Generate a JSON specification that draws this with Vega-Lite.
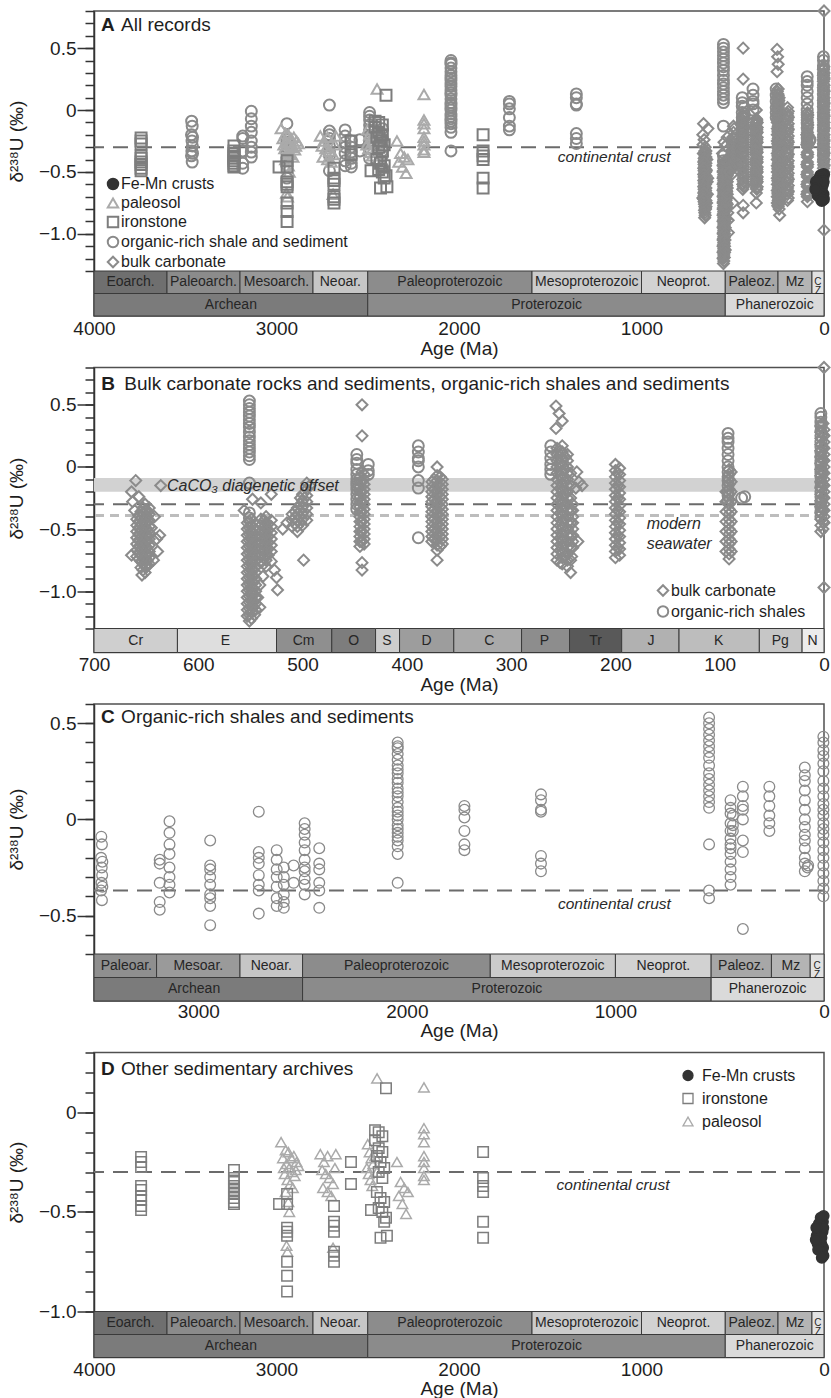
{
"$schema":"https://vega.github.io/schema/vega-lite/v6.json",
"padding":{"left":6,"top":0,"right":4,"bottom":0},
"background":"white",
"spacing":51.5,
"bounds":"flush",
"config":{
 "font":"Liberation Sans",
 "view":{"stroke":"#505050","strokeWidth":1.5},
 "axis":{"labelFont":"Liberation Sans","titleFont":"Liberation Sans","labelFontSize":19,"titleFontSize":19,"titleFontWeight":"normal","labelColor":"#1e1e1e","titleColor":"#1e1e1e","grid":false,"domainColor":"#333","tickColor":"#333"},
 "legend":{"labelFont":"Liberation Sans","labelLimit":400},
 "text":{"font":"Liberation Sans"}
},
"resolve":{"scale":{"shape":"independent","stroke":"independent","fill":"independent"},"legend":{"shape":"independent","stroke":"independent","fill":"independent"}},
"datasets":{
"d":[
{"t":"c","a":660,"v":-0.11},{"t":"c","a":664,"v":-0.2},{"t":"c","a":663,"v":-0.28},{"t":"c","a":657,"v":-0.24},{"t":"c","a":645,"v":-0.49},{"t":"c","a":640,"v":-0.58},{"t":"c","a":639,"v":-0.68},{"t":"c","a":664,"v":-0.71},{"t":"c","a":654,"v":-0.87},{"t":"c","a":650,"v":-0.79},{"t":"c","a":636,"v":-0.15},{"t":"c","a":642,"v":-0.4},{"t":"c","a":637,"v":-0.55},{"t":"c","a":643,"v":-0.75},{"t":"c","a":661,"v":-0.35},
{"t":"c","a":647,"v":-0.33},{"t":"c","a":647,"v":-0.38},{"t":"c","a":647,"v":-0.43},{"t":"c","a":647,"v":-0.48},{"t":"c","a":647,"v":-0.53},{"t":"c","a":647,"v":-0.58},{"t":"c","a":647,"v":-0.63},{"t":"c","a":647,"v":-0.68},{"t":"c","a":647,"v":-0.73},{"t":"c","a":647,"v":-0.78},
{"t":"c","a":649,"v":-0.35},{"t":"c","a":649,"v":-0.4},{"t":"c","a":649,"v":-0.45},{"t":"c","a":649,"v":-0.5},{"t":"c","a":649,"v":-0.55},{"t":"c","a":649,"v":-0.6},{"t":"c","a":649,"v":-0.65},{"t":"c","a":649,"v":-0.7},{"t":"c","a":649,"v":-0.75},{"t":"c","a":649,"v":-0.8},
{"t":"c","a":651,"v":-0.3},{"t":"c","a":651,"v":-0.35},{"t":"c","a":651,"v":-0.4},{"t":"c","a":651,"v":-0.45},{"t":"c","a":651,"v":-0.5},{"t":"c","a":651,"v":-0.55},{"t":"c","a":651,"v":-0.6},{"t":"c","a":651,"v":-0.65},{"t":"c","a":651,"v":-0.7},{"t":"c","a":651,"v":-0.75},{"t":"c","a":651,"v":-0.8},{"t":"c","a":651,"v":-0.85},
{"t":"c","a":653,"v":-0.33},{"t":"c","a":653,"v":-0.38},{"t":"c","a":653,"v":-0.43},{"t":"c","a":653,"v":-0.48},{"t":"c","a":653,"v":-0.53},{"t":"c","a":653,"v":-0.58},{"t":"c","a":653,"v":-0.63},{"t":"c","a":653,"v":-0.68},{"t":"c","a":653,"v":-0.73},{"t":"c","a":653,"v":-0.78},{"t":"c","a":653,"v":-0.83},
{"t":"c","a":655,"v":-0.36},{"t":"c","a":655,"v":-0.41},{"t":"c","a":655,"v":-0.46},{"t":"c","a":655,"v":-0.51},{"t":"c","a":655,"v":-0.56},{"t":"c","a":655,"v":-0.61},{"t":"c","a":655,"v":-0.66},{"t":"c","a":655,"v":-0.71},{"t":"c","a":655,"v":-0.76},{"t":"c","a":655,"v":-0.81},
{"t":"c","a":657,"v":-0.39},{"t":"c","a":657,"v":-0.44},{"t":"c","a":657,"v":-0.49},{"t":"c","a":657,"v":-0.54},{"t":"c","a":657,"v":-0.59},{"t":"c","a":657,"v":-0.64},{"t":"c","a":657,"v":-0.69},{"t":"c","a":657,"v":-0.74},
{"t":"c","a":659,"v":-0.42},{"t":"c","a":659,"v":-0.47},{"t":"c","a":659,"v":-0.52},{"t":"c","a":659,"v":-0.57},{"t":"c","a":659,"v":-0.62},{"t":"c","a":659,"v":-0.67},{"t":"c","a":659,"v":-0.72},
{"t":"c","a":556,"v":-0.35},{"t":"c","a":548,"v":-0.26},{"t":"c","a":540,"v":-0.29},{"t":"c","a":530,"v":-0.22},{"t":"c","a":525,"v":-0.89},{"t":"c","a":524,"v":-0.99},{"t":"c","a":530,"v":-0.76},{"t":"c","a":527,"v":-0.83},{"t":"c","a":538,"v":-0.88},{"t":"c","a":541,"v":-0.95},{"t":"c","a":543,"v":-1.05},
{"t":"c","a":553,"v":-0.45},{"t":"c","a":553,"v":-0.5},{"t":"c","a":553,"v":-0.55},{"t":"c","a":553,"v":-0.6},{"t":"c","a":553,"v":-0.65},{"t":"c","a":553,"v":-0.7},{"t":"c","a":553,"v":-0.75},{"t":"c","a":553,"v":-0.8},{"t":"c","a":553,"v":-0.85},{"t":"c","a":553,"v":-0.9},{"t":"c","a":553,"v":-0.95},{"t":"c","a":553,"v":-1.0},{"t":"c","a":553,"v":-1.05},{"t":"c","a":553,"v":-1.1},{"t":"c","a":553,"v":-1.15},{"t":"c","a":553,"v":-1.2},
{"t":"c","a":551,"v":-0.44},{"t":"c","a":551,"v":-0.49},{"t":"c","a":551,"v":-0.54},{"t":"c","a":551,"v":-0.59},{"t":"c","a":551,"v":-0.64},{"t":"c","a":551,"v":-0.69},{"t":"c","a":551,"v":-0.74},{"t":"c","a":551,"v":-0.79},{"t":"c","a":551,"v":-0.84},{"t":"c","a":551,"v":-0.89},{"t":"c","a":551,"v":-0.94},{"t":"c","a":551,"v":-0.99},{"t":"c","a":551,"v":-1.04},{"t":"c","a":551,"v":-1.09},{"t":"c","a":551,"v":-1.14},{"t":"c","a":551,"v":-1.19},
{"t":"c","a":549,"v":-0.42},{"t":"c","a":549,"v":-0.47},{"t":"c","a":549,"v":-0.52},{"t":"c","a":549,"v":-0.57},{"t":"c","a":549,"v":-0.62},{"t":"c","a":549,"v":-0.67},{"t":"c","a":549,"v":-0.72},{"t":"c","a":549,"v":-0.77},{"t":"c","a":549,"v":-0.82},{"t":"c","a":549,"v":-0.87},{"t":"c","a":549,"v":-0.92},{"t":"c","a":549,"v":-0.97},{"t":"c","a":549,"v":-1.02},{"t":"c","a":549,"v":-1.07},{"t":"c","a":549,"v":-1.12},{"t":"c","a":549,"v":-1.17},{"t":"c","a":549,"v":-1.22},
{"t":"c","a":547,"v":-0.53},{"t":"c","a":547,"v":-0.58},{"t":"c","a":547,"v":-0.63},{"t":"c","a":547,"v":-0.68},{"t":"c","a":547,"v":-0.73},{"t":"c","a":547,"v":-0.78},{"t":"c","a":547,"v":-0.83},{"t":"c","a":547,"v":-0.88},{"t":"c","a":547,"v":-0.93},{"t":"c","a":547,"v":-0.98},{"t":"c","a":547,"v":-1.03},{"t":"c","a":547,"v":-1.08},{"t":"c","a":547,"v":-1.13},
{"t":"c","a":545,"v":-0.5},{"t":"c","a":545,"v":-0.55},{"t":"c","a":545,"v":-0.6},{"t":"c","a":545,"v":-0.65},{"t":"c","a":545,"v":-0.7},{"t":"c","a":545,"v":-0.75},{"t":"c","a":545,"v":-0.8},{"t":"c","a":545,"v":-0.85},{"t":"c","a":545,"v":-0.9},{"t":"c","a":545,"v":-0.95},{"t":"c","a":545,"v":-1.0},{"t":"c","a":545,"v":-1.05},{"t":"c","a":545,"v":-1.1},{"t":"c","a":545,"v":-1.15},
{"t":"c","a":540,"v":-0.42},{"t":"c","a":540,"v":-0.47},{"t":"c","a":540,"v":-0.52},{"t":"c","a":540,"v":-0.57},{"t":"c","a":540,"v":-0.62},{"t":"c","a":540,"v":-0.67},{"t":"c","a":540,"v":-0.72},{"t":"c","a":540,"v":-0.77},
{"t":"c","a":537,"v":-0.43},{"t":"c","a":537,"v":-0.48},{"t":"c","a":537,"v":-0.53},{"t":"c","a":537,"v":-0.58},{"t":"c","a":537,"v":-0.63},{"t":"c","a":537,"v":-0.68},{"t":"c","a":537,"v":-0.73},{"t":"c","a":537,"v":-0.78},
{"t":"c","a":535,"v":-0.4},{"t":"c","a":535,"v":-0.45},{"t":"c","a":535,"v":-0.5},{"t":"c","a":535,"v":-0.55},{"t":"c","a":535,"v":-0.6},{"t":"c","a":535,"v":-0.65},{"t":"c","a":535,"v":-0.7},{"t":"c","a":535,"v":-0.75},{"t":"c","a":535,"v":-0.8},
{"t":"c","a":533,"v":-0.46},{"t":"c","a":533,"v":-0.51},{"t":"c","a":533,"v":-0.56},{"t":"c","a":533,"v":-0.61},{"t":"c","a":533,"v":-0.66},{"t":"c","a":533,"v":-0.71},
{"t":"c","a":530,"v":-0.43},{"t":"c","a":530,"v":-0.48},{"t":"c","a":530,"v":-0.53},{"t":"c","a":530,"v":-0.58},{"t":"c","a":530,"v":-0.63},{"t":"c","a":530,"v":-0.68},
{"t":"c","a":551,"v":-1.24},{"t":"c","a":546,"v":-1.19},{"t":"c","a":541,"v":-1.13},
{"t":"c","a":510,"v":-0.38},{"t":"c","a":510,"v":-0.43},{"t":"c","a":510,"v":-0.48},
{"t":"c","a":507,"v":-0.36},{"t":"c","a":507,"v":-0.41},{"t":"c","a":507,"v":-0.46},
{"t":"c","a":505,"v":-0.33},{"t":"c","a":505,"v":-0.38},{"t":"c","a":505,"v":-0.43},{"t":"c","a":505,"v":-0.48},{"t":"c","a":505,"v":-0.52},
{"t":"c","a":502,"v":-0.25},{"t":"c","a":502,"v":-0.3},{"t":"c","a":502,"v":-0.35},{"t":"c","a":502,"v":-0.4},{"t":"c","a":502,"v":-0.45},
{"t":"c","a":500,"v":-0.22},{"t":"c","a":500,"v":-0.27},{"t":"c","a":500,"v":-0.32},{"t":"c","a":500,"v":-0.37},{"t":"c","a":500,"v":-0.42},{"t":"c","a":500,"v":-0.47},
{"t":"c","a":496,"v":-0.13},{"t":"c","a":496,"v":-0.18},{"t":"c","a":496,"v":-0.23},{"t":"c","a":496,"v":-0.28},{"t":"c","a":496,"v":-0.33},{"t":"c","a":496,"v":-0.38},{"t":"c","a":496,"v":-0.43},
{"t":"c","a":499,"v":-0.75},{"t":"c","a":515,"v":-0.45},{"t":"c","a":519,"v":-0.5},{"t":"c","a":493,"v":-0.15},
{"t":"c","a":441,"v":-0.06},{"t":"c","a":441,"v":-0.1},{"t":"c","a":441,"v":-0.14},{"t":"c","a":441,"v":-0.18},{"t":"c","a":441,"v":-0.22},{"t":"c","a":441,"v":-0.26},{"t":"c","a":441,"v":-0.3},{"t":"c","a":441,"v":-0.34},{"t":"c","a":441,"v":-0.38},{"t":"c","a":441,"v":-0.42},{"t":"c","a":441,"v":-0.46},{"t":"c","a":441,"v":-0.5},{"t":"c","a":441,"v":-0.54},{"t":"c","a":441,"v":-0.58},{"t":"c","a":441,"v":-0.62},
{"t":"c","a":443,"v":-0.04},{"t":"c","a":443,"v":-0.12},{"t":"c","a":443,"v":-0.2},{"t":"c","a":443,"v":-0.28},{"t":"c","a":443,"v":-0.36},{"t":"c","a":443,"v":-0.44},{"t":"c","a":443,"v":-0.52},{"t":"c","a":443,"v":-0.6},
{"t":"c","a":445,"v":-0.08},{"t":"c","a":445,"v":-0.12},{"t":"c","a":445,"v":-0.16},{"t":"c","a":445,"v":-0.2},{"t":"c","a":445,"v":-0.24},{"t":"c","a":445,"v":-0.28},{"t":"c","a":445,"v":-0.32},{"t":"c","a":445,"v":-0.36},{"t":"c","a":445,"v":-0.4},{"t":"c","a":445,"v":-0.44},{"t":"c","a":445,"v":-0.48},{"t":"c","a":445,"v":-0.52},{"t":"c","a":445,"v":-0.56},{"t":"c","a":445,"v":-0.6},{"t":"c","a":445,"v":-0.64},
{"t":"c","a":443,"v":0.5},{"t":"c","a":443,"v":0.25},{"t":"c","a":443,"v":-0.77},{"t":"c","a":443,"v":-0.83},
{"t":"c","a":366,"v":-0.1},{"t":"c","a":366,"v":-0.14},{"t":"c","a":366,"v":-0.18},{"t":"c","a":366,"v":-0.22},{"t":"c","a":366,"v":-0.26},{"t":"c","a":366,"v":-0.3},{"t":"c","a":366,"v":-0.34},{"t":"c","a":366,"v":-0.38},{"t":"c","a":366,"v":-0.42},{"t":"c","a":366,"v":-0.46},{"t":"c","a":366,"v":-0.5},{"t":"c","a":366,"v":-0.54},{"t":"c","a":366,"v":-0.58},{"t":"c","a":366,"v":-0.62},
{"t":"c","a":368,"v":-0.08},{"t":"c","a":368,"v":-0.16},{"t":"c","a":368,"v":-0.24},{"t":"c","a":368,"v":-0.32},{"t":"c","a":368,"v":-0.4},{"t":"c","a":368,"v":-0.48},{"t":"c","a":368,"v":-0.56},{"t":"c","a":368,"v":-0.64},
{"t":"c","a":371,"v":-0.07},{"t":"c","a":371,"v":-0.11},{"t":"c","a":371,"v":-0.15},{"t":"c","a":371,"v":-0.19},{"t":"c","a":371,"v":-0.23},{"t":"c","a":371,"v":-0.27},{"t":"c","a":371,"v":-0.31},{"t":"c","a":371,"v":-0.35},{"t":"c","a":371,"v":-0.39},{"t":"c","a":371,"v":-0.43},{"t":"c","a":371,"v":-0.47},{"t":"c","a":371,"v":-0.51},{"t":"c","a":371,"v":-0.55},{"t":"c","a":371,"v":-0.59},{"t":"c","a":371,"v":-0.63},{"t":"c","a":371,"v":-0.67},
{"t":"c","a":374,"v":-0.1},{"t":"c","a":374,"v":-0.18},{"t":"c","a":374,"v":-0.26},{"t":"c","a":374,"v":-0.34},{"t":"c","a":374,"v":-0.42},{"t":"c","a":374,"v":-0.5},{"t":"c","a":374,"v":-0.58},
{"t":"c","a":376,"v":-0.12},{"t":"c","a":376,"v":-0.16},{"t":"c","a":376,"v":-0.2},{"t":"c","a":376,"v":-0.24},{"t":"c","a":376,"v":-0.28},{"t":"c","a":376,"v":-0.32},{"t":"c","a":376,"v":-0.36},{"t":"c","a":376,"v":-0.4},{"t":"c","a":376,"v":-0.44},{"t":"c","a":376,"v":-0.48},{"t":"c","a":376,"v":-0.52},{"t":"c","a":376,"v":-0.56},{"t":"c","a":376,"v":-0.6},
{"t":"c","a":371,"v":0.0},{"t":"c","a":371,"v":-0.75},
{"t":"c","a":257,"v":0.49},{"t":"c","a":254,"v":0.43},{"t":"c","a":251,"v":0.37},{"t":"c","a":257,"v":0.31},
{"t":"c","a":256,"v":0.15},{"t":"c","a":256,"v":0.1},{"t":"c","a":256,"v":0.05},{"t":"c","a":256,"v":0.0},{"t":"c","a":256,"v":-0.05},{"t":"c","a":256,"v":-0.1},{"t":"c","a":256,"v":-0.15},{"t":"c","a":256,"v":-0.2},{"t":"c","a":256,"v":-0.25},{"t":"c","a":256,"v":-0.3},{"t":"c","a":256,"v":-0.35},{"t":"c","a":256,"v":-0.4},{"t":"c","a":256,"v":-0.45},{"t":"c","a":256,"v":-0.5},{"t":"c","a":256,"v":-0.55},{"t":"c","a":256,"v":-0.6},{"t":"c","a":256,"v":-0.65},{"t":"c","a":256,"v":-0.7},{"t":"c","a":256,"v":-0.75},
{"t":"c","a":253,"v":0.13},{"t":"c","a":253,"v":0.03},{"t":"c","a":253,"v":-0.07},{"t":"c","a":253,"v":-0.17},{"t":"c","a":253,"v":-0.27},{"t":"c","a":253,"v":-0.37},{"t":"c","a":253,"v":-0.47},{"t":"c","a":253,"v":-0.57},{"t":"c","a":253,"v":-0.67},{"t":"c","a":253,"v":-0.77},
{"t":"c","a":251,"v":0.17},{"t":"c","a":251,"v":0.12},{"t":"c","a":251,"v":0.07},{"t":"c","a":251,"v":0.02},{"t":"c","a":251,"v":-0.03},{"t":"c","a":251,"v":-0.08},{"t":"c","a":251,"v":-0.13},{"t":"c","a":251,"v":-0.18},{"t":"c","a":251,"v":-0.23},{"t":"c","a":251,"v":-0.28},{"t":"c","a":251,"v":-0.33},{"t":"c","a":251,"v":-0.38},{"t":"c","a":251,"v":-0.43},{"t":"c","a":251,"v":-0.48},{"t":"c","a":251,"v":-0.53},{"t":"c","a":251,"v":-0.58},{"t":"c","a":251,"v":-0.63},{"t":"c","a":251,"v":-0.68},{"t":"c","a":251,"v":-0.73},{"t":"c","a":251,"v":-0.78},
{"t":"c","a":248,"v":0.08},{"t":"c","a":248,"v":-0.02},{"t":"c","a":248,"v":-0.12},{"t":"c","a":248,"v":-0.22},{"t":"c","a":248,"v":-0.32},{"t":"c","a":248,"v":-0.42},{"t":"c","a":248,"v":-0.52},{"t":"c","a":248,"v":-0.62},{"t":"c","a":248,"v":-0.72},
{"t":"c","a":246,"v":0.1},{"t":"c","a":246,"v":0.05},{"t":"c","a":246,"v":0.0},{"t":"c","a":246,"v":-0.05},{"t":"c","a":246,"v":-0.1},{"t":"c","a":246,"v":-0.15},{"t":"c","a":246,"v":-0.2},{"t":"c","a":246,"v":-0.25},{"t":"c","a":246,"v":-0.3},{"t":"c","a":246,"v":-0.35},{"t":"c","a":246,"v":-0.4},{"t":"c","a":246,"v":-0.45},{"t":"c","a":246,"v":-0.5},{"t":"c","a":246,"v":-0.55},{"t":"c","a":246,"v":-0.6},{"t":"c","a":246,"v":-0.65},{"t":"c","a":246,"v":-0.7},{"t":"c","a":246,"v":-0.75},{"t":"c","a":246,"v":-0.8},
{"t":"c","a":243,"v":-0.05},{"t":"c","a":243,"v":-0.15},{"t":"c","a":243,"v":-0.25},{"t":"c","a":243,"v":-0.35},{"t":"c","a":243,"v":-0.45},{"t":"c","a":243,"v":-0.55},{"t":"c","a":243,"v":-0.65},{"t":"c","a":243,"v":-0.75},
{"t":"c","a":241,"v":-0.3},{"t":"c","a":241,"v":-0.35},{"t":"c","a":241,"v":-0.4},{"t":"c","a":241,"v":-0.45},{"t":"c","a":241,"v":-0.5},{"t":"c","a":241,"v":-0.55},{"t":"c","a":241,"v":-0.6},{"t":"c","a":241,"v":-0.65},
{"t":"c","a":235,"v":-0.12},{"t":"c","a":237,"v":-0.04},{"t":"c","a":243,"v":-0.85},{"t":"c","a":242,"v":-0.72},{"t":"c","a":238,"v":-0.17},{"t":"c","a":232,"v":-0.15},{"t":"c","a":236,"v":-0.6},
{"t":"c","a":200,"v":0.02},{"t":"c","a":200,"v":-0.03},{"t":"c","a":200,"v":-0.08},{"t":"c","a":200,"v":-0.13},{"t":"c","a":200,"v":-0.18},{"t":"c","a":200,"v":-0.23},{"t":"c","a":200,"v":-0.28},{"t":"c","a":200,"v":-0.33},{"t":"c","a":200,"v":-0.38},{"t":"c","a":200,"v":-0.43},{"t":"c","a":200,"v":-0.48},{"t":"c","a":200,"v":-0.53},{"t":"c","a":200,"v":-0.58},{"t":"c","a":200,"v":-0.63},{"t":"c","a":200,"v":-0.68},{"t":"c","a":200,"v":-0.73},
{"t":"c","a":198,"v":-0.05},{"t":"c","a":198,"v":-0.15},{"t":"c","a":198,"v":-0.25},{"t":"c","a":198,"v":-0.35},{"t":"c","a":198,"v":-0.45},{"t":"c","a":198,"v":-0.55},{"t":"c","a":198,"v":-0.65},
{"t":"c","a":196,"v":-0.01},{"t":"c","a":196,"v":-0.06},{"t":"c","a":196,"v":-0.11},{"t":"c","a":196,"v":-0.16},{"t":"c","a":196,"v":-0.21},{"t":"c","a":196,"v":-0.26},{"t":"c","a":196,"v":-0.31},{"t":"c","a":196,"v":-0.36},{"t":"c","a":196,"v":-0.41},{"t":"c","a":196,"v":-0.46},{"t":"c","a":196,"v":-0.51},{"t":"c","a":196,"v":-0.56},{"t":"c","a":196,"v":-0.61},{"t":"c","a":196,"v":-0.66},{"t":"c","a":196,"v":-0.71},
{"t":"c","a":91,"v":-0.02},{"t":"c","a":91,"v":-0.06},{"t":"c","a":91,"v":-0.1},{"t":"c","a":91,"v":-0.14},{"t":"c","a":91,"v":-0.18},{"t":"c","a":91,"v":-0.22},{"t":"c","a":91,"v":-0.26},{"t":"c","a":91,"v":-0.3},{"t":"c","a":91,"v":-0.34},{"t":"c","a":91,"v":-0.38},{"t":"c","a":91,"v":-0.42},{"t":"c","a":91,"v":-0.46},{"t":"c","a":91,"v":-0.5},{"t":"c","a":91,"v":-0.54},{"t":"c","a":91,"v":-0.58},{"t":"c","a":91,"v":-0.62},{"t":"c","a":91,"v":-0.66},{"t":"c","a":91,"v":-0.7},{"t":"c","a":91,"v":-0.74},
{"t":"c","a":89,"v":-0.04},{"t":"c","a":89,"v":-0.12},{"t":"c","a":89,"v":-0.2},{"t":"c","a":89,"v":-0.28},{"t":"c","a":89,"v":-0.36},{"t":"c","a":89,"v":-0.44},{"t":"c","a":89,"v":-0.52},{"t":"c","a":89,"v":-0.6},{"t":"c","a":89,"v":-0.68},
{"t":"c","a":94,"v":-0.2},{"t":"c","a":94,"v":-0.28},{"t":"c","a":94,"v":-0.36},{"t":"c","a":94,"v":-0.44},{"t":"c","a":94,"v":-0.52},{"t":"c","a":94,"v":-0.6},{"t":"c","a":94,"v":-0.68},
{"t":"c","a":3,"v":0.33},{"t":"c","a":3,"v":0.28},{"t":"c","a":3,"v":0.23},{"t":"c","a":3,"v":0.18},{"t":"c","a":3,"v":0.13},{"t":"c","a":3,"v":0.08},{"t":"c","a":3,"v":0.03},{"t":"c","a":3,"v":-0.02},{"t":"c","a":3,"v":-0.07},{"t":"c","a":3,"v":-0.12},{"t":"c","a":3,"v":-0.17},{"t":"c","a":3,"v":-0.22},{"t":"c","a":3,"v":-0.27},{"t":"c","a":3,"v":-0.32},{"t":"c","a":3,"v":-0.37},{"t":"c","a":3,"v":-0.42},{"t":"c","a":3,"v":-0.47},{"t":"c","a":3,"v":-0.52},
{"t":"c","a":1,"v":0.35},{"t":"c","a":1,"v":0.26},{"t":"c","a":1,"v":0.16},{"t":"c","a":1,"v":0.06},{"t":"c","a":1,"v":-0.04},{"t":"c","a":1,"v":-0.14},{"t":"c","a":1,"v":-0.24},{"t":"c","a":1,"v":-0.34},{"t":"c","a":1,"v":-0.44},{"t":"c","a":1,"v":-0.5},
{"t":"c","a":0,"v":0.3},{"t":"c","a":0,"v":0.25},{"t":"c","a":0,"v":0.2},{"t":"c","a":0,"v":0.15},{"t":"c","a":0,"v":0.1},{"t":"c","a":0,"v":0.05},{"t":"c","a":0,"v":0.0},{"t":"c","a":0,"v":-0.05},{"t":"c","a":0,"v":-0.1},{"t":"c","a":0,"v":-0.15},{"t":"c","a":0,"v":-0.2},{"t":"c","a":0,"v":-0.25},{"t":"c","a":0,"v":-0.3},{"t":"c","a":0,"v":-0.35},{"t":"c","a":0,"v":-0.4},{"t":"c","a":0,"v":-0.45},
{"t":"c","a":0,"v":0.8},{"t":"c","a":0,"v":-0.97},
{"t":"o","a":3465,"v":-0.09},{"t":"o","a":3462,"v":-0.13},{"t":"o","a":3466,"v":-0.2},{"t":"o","a":3460,"v":-0.22},{"t":"o","a":3463,"v":-0.25},{"t":"o","a":3461,"v":-0.29},{"t":"o","a":3464,"v":-0.33},{"t":"o","a":3460,"v":-0.35},{"t":"o","a":3466,"v":-0.37},{"t":"o","a":3462,"v":-0.42},
{"t":"o","a":3185,"v":-0.21},{"t":"o","a":3185,"v":-0.23},{"t":"o","a":3185,"v":-0.33},{"t":"o","a":3185,"v":-0.43},{"t":"o","a":3185,"v":-0.47},
{"t":"o","a":3138,"v":-0.01},{"t":"o","a":3138,"v":-0.07},{"t":"o","a":3138,"v":-0.13},{"t":"o","a":3138,"v":-0.18},{"t":"o","a":3138,"v":-0.25},{"t":"o","a":3138,"v":-0.3},{"t":"o","a":3138,"v":-0.34},{"t":"o","a":3138,"v":-0.38},
{"t":"o","a":2943,"v":-0.11},{"t":"o","a":2943,"v":-0.24},{"t":"o","a":2943,"v":-0.26},{"t":"o","a":2943,"v":-0.3},{"t":"o","a":2943,"v":-0.34},{"t":"o","a":2943,"v":-0.39},{"t":"o","a":2943,"v":-0.41},{"t":"o","a":2943,"v":-0.45},{"t":"o","a":2943,"v":-0.55},
{"t":"o","a":2710,"v":0.04},{"t":"o","a":2710,"v":-0.17},{"t":"o","a":2710,"v":-0.2},{"t":"o","a":2710,"v":-0.23},{"t":"o","a":2710,"v":-0.29},{"t":"o","a":2710,"v":-0.34},{"t":"o","a":2710,"v":-0.37},{"t":"o","a":2710,"v":-0.49},
{"t":"o","a":2624,"v":-0.16},{"t":"o","a":2624,"v":-0.21},{"t":"o","a":2624,"v":-0.26},{"t":"o","a":2624,"v":-0.3},{"t":"o","a":2624,"v":-0.35},{"t":"o","a":2624,"v":-0.41},{"t":"o","a":2624,"v":-0.45},
{"t":"o","a":2590,"v":-0.25},{"t":"o","a":2590,"v":-0.3},{"t":"o","a":2590,"v":-0.34},{"t":"o","a":2590,"v":-0.39},{"t":"o","a":2590,"v":-0.43},{"t":"o","a":2590,"v":-0.46},
{"t":"o","a":2543,"v":-0.24},{"t":"o","a":2543,"v":-0.33},
{"t":"o","a":2490,"v":-0.02},{"t":"o","a":2490,"v":-0.05},{"t":"o","a":2490,"v":-0.08},{"t":"o","a":2490,"v":-0.12},{"t":"o","a":2490,"v":-0.16},{"t":"o","a":2490,"v":-0.21},{"t":"o","a":2490,"v":-0.25},{"t":"o","a":2490,"v":-0.27},{"t":"o","a":2490,"v":-0.31},{"t":"o","a":2490,"v":-0.34},{"t":"o","a":2490,"v":-0.39},
{"t":"o","a":2420,"v":-0.15},{"t":"o","a":2420,"v":-0.23},{"t":"o","a":2420,"v":-0.26},{"t":"o","a":2420,"v":-0.33},{"t":"o","a":2420,"v":-0.37},{"t":"o","a":2420,"v":-0.46},
{"t":"o","a":2044,"v":0.4},{"t":"o","a":2044,"v":0.38},{"t":"o","a":2044,"v":0.37},{"t":"o","a":2044,"v":0.34},{"t":"o","a":2044,"v":0.31},{"t":"o","a":2044,"v":0.28},{"t":"o","a":2044,"v":0.26},{"t":"o","a":2044,"v":0.24},{"t":"o","a":2044,"v":0.21},{"t":"o","a":2044,"v":0.19},{"t":"o","a":2044,"v":0.16},{"t":"o","a":2044,"v":0.14},{"t":"o","a":2044,"v":0.12},{"t":"o","a":2044,"v":0.09},{"t":"o","a":2044,"v":0.06},{"t":"o","a":2044,"v":0.04},{"t":"o","a":2044,"v":0.02},{"t":"o","a":2044,"v":0.0},{"t":"o","a":2044,"v":-0.03},{"t":"o","a":2044,"v":-0.05},{"t":"o","a":2044,"v":-0.07},{"t":"o","a":2044,"v":-0.09},{"t":"o","a":2044,"v":-0.11},{"t":"o","a":2044,"v":-0.14},{"t":"o","a":2044,"v":-0.18},{"t":"o","a":2044,"v":-0.33},
{"t":"o","a":1724,"v":0.07},{"t":"o","a":1724,"v":0.05},{"t":"o","a":1724,"v":0.01},{"t":"o","a":1724,"v":-0.06},{"t":"o","a":1724,"v":-0.13},{"t":"o","a":1724,"v":-0.16},
{"t":"o","a":1357,"v":0.13},{"t":"o","a":1357,"v":0.1},{"t":"o","a":1357,"v":0.05},{"t":"o","a":1357,"v":0.04},{"t":"o","a":1357,"v":-0.19},{"t":"o","a":1357,"v":-0.23},{"t":"o","a":1357,"v":-0.27},
{"t":"o","a":551,"v":0.53},{"t":"o","a":551,"v":0.5},{"t":"o","a":551,"v":0.47},{"t":"o","a":551,"v":0.44},{"t":"o","a":551,"v":0.41},{"t":"o","a":551,"v":0.38},{"t":"o","a":551,"v":0.35},{"t":"o","a":551,"v":0.32},{"t":"o","a":551,"v":0.28},{"t":"o","a":551,"v":0.24},{"t":"o","a":551,"v":0.21},{"t":"o","a":551,"v":0.18},{"t":"o","a":551,"v":0.15},{"t":"o","a":551,"v":0.12},{"t":"o","a":551,"v":0.09},{"t":"o","a":551,"v":0.06},{"t":"o","a":551,"v":-0.13},{"t":"o","a":551,"v":-0.37},{"t":"o","a":551,"v":-0.41},
{"t":"o","a":448,"v":0.1},{"t":"o","a":448,"v":0.06},{"t":"o","a":448,"v":0.03},{"t":"o","a":448,"v":-0.02},{"t":"o","a":448,"v":-0.06},{"t":"o","a":448,"v":-0.1},{"t":"o","a":448,"v":-0.13},{"t":"o","a":448,"v":-0.15},{"t":"o","a":448,"v":-0.18},{"t":"o","a":448,"v":-0.22},{"t":"o","a":448,"v":-0.26},{"t":"o","a":448,"v":-0.3},{"t":"o","a":448,"v":-0.34},
{"t":"o","a":437,"v":0.02},{"t":"o","a":437,"v":-0.03},{"t":"o","a":437,"v":-0.06},
{"t":"o","a":389,"v":0.17},{"t":"o","a":389,"v":0.12},{"t":"o","a":389,"v":0.07},{"t":"o","a":389,"v":0.05},{"t":"o","a":389,"v":0.0},{"t":"o","a":389,"v":-0.11},{"t":"o","a":389,"v":-0.17},{"t":"o","a":389,"v":-0.57},
{"t":"o","a":262,"v":0.17},{"t":"o","a":262,"v":0.12},{"t":"o","a":262,"v":0.07},{"t":"o","a":262,"v":0.02},{"t":"o","a":262,"v":-0.02},{"t":"o","a":262,"v":-0.06},
{"t":"o","a":92,"v":0.27},{"t":"o","a":92,"v":0.23},{"t":"o","a":92,"v":0.2},{"t":"o","a":92,"v":0.15},{"t":"o","a":92,"v":0.1},{"t":"o","a":92,"v":0.05},{"t":"o","a":92,"v":0.0},{"t":"o","a":92,"v":-0.04},{"t":"o","a":92,"v":-0.08},{"t":"o","a":92,"v":-0.11},{"t":"o","a":92,"v":-0.15},{"t":"o","a":92,"v":-0.2},{"t":"o","a":92,"v":-0.23},{"t":"o","a":92,"v":-0.27},
{"t":"o","a":79,"v":-0.25},{"t":"o","a":76,"v":-0.24},
{"t":"o","a":3,"v":0.43},{"t":"o","a":3,"v":0.4},{"t":"o","a":3,"v":0.36},{"t":"o","a":3,"v":0.33},{"t":"o","a":3,"v":0.29},{"t":"o","a":3,"v":0.25},{"t":"o","a":3,"v":0.2},{"t":"o","a":3,"v":0.16},{"t":"o","a":3,"v":0.12},{"t":"o","a":3,"v":0.08},{"t":"o","a":3,"v":0.05},{"t":"o","a":3,"v":0.02},{"t":"o","a":3,"v":-0.02},{"t":"o","a":3,"v":-0.05},{"t":"o","a":3,"v":-0.08},{"t":"o","a":3,"v":-0.12},{"t":"o","a":3,"v":-0.16},{"t":"o","a":3,"v":-0.2},{"t":"o","a":3,"v":-0.24},{"t":"o","a":3,"v":-0.28},{"t":"o","a":3,"v":-0.32},{"t":"o","a":3,"v":-0.36},{"t":"o","a":3,"v":-0.4},
{"t":"p","a":2975,"v":-0.15},{"t":"p","a":2950,"v":-0.19},{"t":"p","a":2935,"v":-0.2},{"t":"p","a":2920,"v":-0.23},{"t":"p","a":2905,"v":-0.22},{"t":"p","a":2890,"v":-0.25},{"t":"p","a":2880,"v":-0.27},{"t":"p","a":2965,"v":-0.23},{"t":"p","a":2945,"v":-0.26},{"t":"p","a":2930,"v":-0.28},{"t":"p","a":2915,"v":-0.3},{"t":"p","a":2900,"v":-0.32},{"t":"p","a":2955,"v":-0.31},{"t":"p","a":2940,"v":-0.34},{"t":"p","a":2925,"v":-0.36},{"t":"p","a":2910,"v":-0.38},{"t":"p","a":2950,"v":-0.4},{"t":"p","a":2935,"v":-0.45},{"t":"p","a":2930,"v":-0.5},{"t":"p","a":2945,"v":-0.67},{"t":"p","a":2940,"v":-0.7},{"t":"p","a":2960,"v":-0.28},{"t":"p","a":2895,"v":-0.29},
{"t":"p","a":2760,"v":-0.21},{"t":"p","a":2740,"v":-0.25},{"t":"p","a":2720,"v":-0.22},{"t":"p","a":2675,"v":-0.21},{"t":"p","a":2750,"v":-0.29},{"t":"p","a":2730,"v":-0.31},{"t":"p","a":2710,"v":-0.33},{"t":"p","a":2690,"v":-0.36},{"t":"p","a":2745,"v":-0.38},{"t":"p","a":2720,"v":-0.4},{"t":"p","a":2680,"v":-0.28},{"t":"p","a":2700,"v":-0.42},{"t":"p","a":2690,"v":-0.68},
{"t":"p","a":2500,"v":-0.16},{"t":"p","a":2490,"v":-0.2},{"t":"p","a":2480,"v":-0.23},{"t":"p","a":2470,"v":-0.26},{"t":"p","a":2505,"v":-0.28},{"t":"p","a":2495,"v":-0.31},{"t":"p","a":2485,"v":-0.34},{"t":"p","a":2475,"v":-0.37},{"t":"p","a":2460,"v":-0.22},{"t":"p","a":2450,"v":-0.3},{"t":"p","a":2449,"v":0.17},
{"t":"p","a":2340,"v":-0.25},{"t":"p","a":2320,"v":-0.35},{"t":"p","a":2300,"v":-0.38},{"t":"p","a":2330,"v":-0.42},{"t":"p","a":2310,"v":-0.46},{"t":"p","a":2290,"v":-0.51},{"t":"p","a":2280,"v":-0.4},
{"t":"p","a":2192,"v":0.125},{"t":"p","a":2192,"v":-0.08},{"t":"p","a":2192,"v":-0.11},{"t":"p","a":2192,"v":-0.15},{"t":"p","a":2192,"v":-0.22},{"t":"p","a":2192,"v":-0.25},{"t":"p","a":2192,"v":-0.28},{"t":"p","a":2192,"v":-0.32},{"t":"p","a":2192,"v":-0.34},
{"t":"i","a":3742,"v":-0.225},{"t":"i","a":3742,"v":-0.25},{"t":"i","a":3742,"v":-0.275},{"t":"i","a":3742,"v":-0.37},{"t":"i","a":3742,"v":-0.39},{"t":"i","a":3742,"v":-0.42},{"t":"i","a":3742,"v":-0.44},{"t":"i","a":3742,"v":-0.47},{"t":"i","a":3742,"v":-0.49},
{"t":"i","a":3233,"v":-0.29},{"t":"i","a":3233,"v":-0.33},{"t":"i","a":3233,"v":-0.35},{"t":"i","a":3233,"v":-0.37},{"t":"i","a":3233,"v":-0.39},{"t":"i","a":3233,"v":-0.41},{"t":"i","a":3233,"v":-0.43},{"t":"i","a":3233,"v":-0.45},{"t":"i","a":3233,"v":-0.46},
{"t":"i","a":2986,"v":-0.46},{"t":"i","a":2942,"v":-0.41},{"t":"i","a":2942,"v":-0.46},{"t":"i","a":2942,"v":-0.58},{"t":"i","a":2942,"v":-0.6},{"t":"i","a":2942,"v":-0.62},{"t":"i","a":2942,"v":-0.75},{"t":"i","a":2942,"v":-0.82},{"t":"i","a":2942,"v":-0.9},
{"t":"i","a":2685,"v":-0.47},{"t":"i","a":2685,"v":-0.55},{"t":"i","a":2685,"v":-0.57},{"t":"i","a":2685,"v":-0.6},{"t":"i","a":2685,"v":-0.7},{"t":"i","a":2685,"v":-0.72},{"t":"i","a":2685,"v":-0.75},{"t":"i","a":2592,"v":-0.25},{"t":"i","a":2592,"v":-0.36},
{"t":"i","a":2400,"v":0.12},{"t":"i","a":2460,"v":-0.09},{"t":"i","a":2440,"v":-0.1},{"t":"i","a":2420,"v":-0.12},{"t":"i","a":2460,"v":-0.14},{"t":"i","a":2440,"v":-0.18},{"t":"i","a":2420,"v":-0.2},{"t":"i","a":2450,"v":-0.22},{"t":"i","a":2430,"v":-0.25},{"t":"i","a":2410,"v":-0.28},{"t":"i","a":2440,"v":-0.3},{"t":"i","a":2420,"v":-0.33},{"t":"i","a":2450,"v":-0.4},{"t":"i","a":2430,"v":-0.43},{"t":"i","a":2410,"v":-0.45},{"t":"i","a":2440,"v":-0.48},{"t":"i","a":2420,"v":-0.5},{"t":"i","a":2400,"v":-0.53},{"t":"i","a":2410,"v":-0.55},{"t":"i","a":2430,"v":-0.63},{"t":"i","a":2395,"v":-0.62},{"t":"i","a":2482,"v":-0.49},
{"t":"i","a":1868,"v":-0.2},{"t":"i","a":1868,"v":-0.33},{"t":"i","a":1868,"v":-0.37},{"t":"i","a":1868,"v":-0.4},{"t":"i","a":1868,"v":-0.55},{"t":"i","a":1868,"v":-0.63},
{"t":"f","a":2,"v":-0.52},{"t":"f","a":6,"v":-0.55},{"t":"f","a":12,"v":-0.56},{"t":"f","a":20,"v":-0.58},{"t":"f","a":30,"v":-0.6},{"t":"f","a":40,"v":-0.62},{"t":"f","a":25,"v":-0.64},{"t":"f","a":15,"v":-0.66},{"t":"f","a":5,"v":-0.68},{"t":"f","a":10,"v":-0.7},{"t":"f","a":3,"v":-0.72},{"t":"f","a":18,"v":-0.53},{"t":"f","a":28,"v":-0.56},{"t":"f","a":35,"v":-0.66},{"t":"f","a":8,"v":-0.6},{"t":"f","a":22,"v":-0.62},{"t":"f","a":14,"v":-0.63},{"t":"f","a":4,"v":-0.58},{"t":"f","a":32,"v":-0.69},{"t":"f","a":12,"v":-0.73},{"t":"f","a":42,"v":-0.58},{"t":"f","a":45,"v":-0.64}
],
"ts":[
{"p":"A","l":"era","n":"Eoarch.","s":4000,"e":3600,"m":3800},
{"p":"A","l":"era","n":"Paleoarch.","s":3600,"e":3200,"m":3400},
{"p":"A","l":"era","n":"Mesoarch.","s":3200,"e":2800,"m":3000},
{"p":"A","l":"era","n":"Neoar.","s":2800,"e":2500,"m":2650},
{"p":"A","l":"era","n":"Paleoproterozoic","s":2500,"e":1600,"m":2050},
{"p":"A","l":"era","n":"Mesoproterozoic","s":1600,"e":1000,"m":1300},
{"p":"A","l":"era","n":"Neoprot.","s":1000,"e":541,"m":770},
{"p":"A","l":"era","n":"Paleoz.","s":541,"e":252,"m":396},
{"p":"A","l":"era","n":"Mz","s":252,"e":66,"m":159},
{"p":"A","l":"era","n":"C\nZ","s":66,"e":0,"m":33},
{"p":"A","l":"eon","n":"Archean","s":4000,"e":2500,"m":3250},
{"p":"A","l":"eon","n":"Proterozoic","s":2500,"e":541,"m":1520},
{"p":"A","l":"eon","n":"Phanerozoic","s":541,"e":0,"m":270},
{"p":"C","l":"era","n":"Paleoar.","s":3500,"e":3200,"m":3345},
{"p":"C","l":"era","n":"Mesoar.","s":3200,"e":2800,"m":3000},
{"p":"C","l":"era","n":"Neoar.","s":2800,"e":2500,"m":2650},
{"p":"C","l":"era","n":"Paleoproterozoic","s":2500,"e":1600,"m":2050},
{"p":"C","l":"era","n":"Mesoproterozoic","s":1600,"e":1000,"m":1300},
{"p":"C","l":"era","n":"Neoprot.","s":1000,"e":541,"m":770},
{"p":"C","l":"era","n":"Paleoz.","s":541,"e":252,"m":396},
{"p":"C","l":"era","n":"Mz","s":252,"e":66,"m":159},
{"p":"C","l":"era","n":"C\nZ","s":66,"e":0,"m":33},
{"p":"C","l":"eon","n":"Archean","s":3500,"e":2500,"m":3020},
{"p":"C","l":"eon","n":"Proterozoic","s":2500,"e":541,"m":1520},
{"p":"C","l":"eon","n":"Phanerozoic","s":541,"e":0,"m":270},
{"p":"B","l":"era","n":"Cr","s":700,"e":620,"m":660},
{"p":"B","l":"era","n":"E","s":620,"e":525,"m":574},
{"p":"B","l":"era","n":"Cm","s":525,"e":472,"m":499},
{"p":"B","l":"era","n":"O","s":472,"e":430,"m":451},
{"p":"B","l":"era","n":"S","s":430,"e":407,"m":419},
{"p":"B","l":"era","n":"D","s":407,"e":355,"m":381},
{"p":"B","l":"era","n":"C","s":355,"e":290,"m":321},
{"p":"B","l":"era","n":"P","s":290,"e":244,"m":268},
{"p":"B","l":"era","n":"Tr","s":244,"e":194,"m":219},
{"p":"B","l":"era","n":"J","s":194,"e":139,"m":166},
{"p":"B","l":"era","n":"K","s":139,"e":62,"m":101},
{"p":"B","l":"era","n":"Pg","s":62,"e":21,"m":42},
{"p":"B","l":"era","n":"N","s":21,"e":0,"m":11}
]
},
"vconcat":[
{"width":730,"height":305,
 "resolve":{"scale":{"y":"independent"},"axis":{"y":"independent"}},
 "layer":[
  {"data":{"name":"ts"},
   "transform":[{"filter":"datum.p=='A'"}],
   "layer":[
   {"mark":{"type":"rect","stroke":"#3a3a3a","strokeWidth":1},
    "encoding":{
     "x":{"field":"s","type":"quantitative","scale":{"domain":[4000,0],"nice":false,"zero":false},
      "axis":{"values":[4000,3000,2000,1000,0],"format":"d","ticks":false,"domain":false,"labelPadding":3,"labelFlush":false,"title":"Age (Ma)","titlePadding":1}},
     "x2":{"field":"e"},
     "y":{"field":"l","type":"nominal","scale":{"domain":["era","eon"],"range":[260,305],"paddingInner":0,"paddingOuter":0},"axis":null},
     "color":{"field":"n","type":"nominal","legend":null,
      "scale":{"domain":["Eoarch.","Paleoarch.","Mesoarch.","Neoar.","Paleoproterozoic","Mesoproterozoic","Neoprot.","Paleoz.","Mz","C\nZ","Archean","Proterozoic","Phanerozoic","Paleoar.","Mesoar.","Cr","E","Cm","O","S","D","C","P","Tr","J","K","Pg","N"],
       "range":["#6f6f6f","#8b8b8b","#989898","#c6c6c6","#8c8c8c","#cbcbcb","#d2d2d2","#a7a7a7","#b4b4b4","#e2e2e2","#7b7b7b","#8b8b8b","#dadada","#8f8f8f","#9a9a9a","#cfcfcf","#dedede","#8f8f8f","#7d7d7d","#cdcdcd","#9d9d9d","#a9a9a9","#8d8d8d","#595959","#b1b1b1","#bdbdbd","#c6c6c6","#ececec"]}}}},
   {"mark":{"type":"text","fontSize":14,"color":"#262626","lineBreak":"\n","lineHeight":9,"baseline":"middle"},
    "encoding":{"x":{"field":"m","type":"quantitative","axis":{"values":[4000,3000,2000,1000,0],"format":"d","ticks":false,"domain":false,"labelPadding":3,"labelFlush":false,"title":"Age (Ma)","titlePadding":1}},"y":{"field":"l","type":"nominal"},"text":{"field":"n"},
     "size":{"condition":{"test":"datum.n=='C\\nZ'","value":10},"value":14}}}
  ]},
  {"resolve":{"axis":{"y":"independent"}},
   "layer":[
   {"data":{"values":[{}]},"mark":{"type":"rule","stroke":"#6b6b6b","strokeWidth":2,"strokeDash":[15,9]},
    "encoding":{"y":{"datum":-0.3,"type":"quantitative","scale":{"domain":[-1.3,0.8],"range":[260,0],"nice":false,"zero":false},
     "axis":{"orient":"left","values":[0.8,0.7,0.6,0.5,0.4,0.3,0.2,0.1,0,-0.1,-0.2,-0.3,-0.4,-0.5,-0.6,-0.7,-0.8,-0.9,-1,-1.1,-1.2,-1.3],"tickSize":9,"tickWidth":1.5,"labels":false,"domain":false,"title":null}}}},
   {"data":{"name":"d"},"mark":{"type":"point","strokeWidth":2,"size":120,"opacity":1},
    "encoding":{
     "x":{"field":"a","type":"quantitative","scale":{"domain":[4000,0],"nice":false,"zero":false},"axis":{"values":[4000,3000,2000,1000,0],"format":"d","ticks":false,"domain":false,"labelPadding":3,"labelFlush":false,"title":"Age (Ma)","titlePadding":1}},
     "y":{"field":"v","type":"quantitative","scale":{"domain":[-1.3,0.8],"range":[260,0],"nice":false,"zero":false},
      "axis":{"orient":"left","values":[0.5,0,-0.5,-1],"tickSize":17,"tickWidth":1.5,"labelPadding":1,"domain":true,"domainWidth":1.5,"title":"δ²³⁸U (‰)","titlePadding":12,"labelExpr":"datum.value==0?'0':format(datum.value,'.1f')"}},
     "shape":{"field":"t","type":"nominal","scale":{"domain":["f","p","i","o","c"],"range":["circle","triangle-up","square","circle","diamond"]},
      "legend":{"orient":"none","legendX":11,"legendY":165,"title":null,"labelFontSize":16,"labelColor":"#1e1e1e","symbolSize":110,"symbolStrokeWidth":2,"rowPadding":0,"labelOffset":0,"padding":0,"labelLimit":400,"labelExpr":"datum.label=='f'?'Fe-Mn crusts':datum.label=='p'?'paleosol':datum.label=='i'?'ironstone':datum.label=='o'?'organic-rich shale and sediment':'bulk carbonate'"}},
     "stroke":{"field":"t","type":"nominal","scale":{"domain":["f","p","i","o","c"],"range":["#333333","#aaaaaa","#7d7d7d","#8a8a8a","#8b8b8b"]},
      "legend":{"orient":"none","legendX":11,"legendY":165,"title":null,"labelFontSize":16,"labelColor":"#1e1e1e","symbolSize":110,"symbolStrokeWidth":2,"rowPadding":0,"labelOffset":0,"padding":0,"labelLimit":400,"labelExpr":"datum.label=='f'?'Fe-Mn crusts':datum.label=='p'?'paleosol':datum.label=='i'?'ironstone':datum.label=='o'?'organic-rich shale and sediment':'bulk carbonate'"}},
     "fill":{"field":"t","type":"nominal","scale":{"domain":["f","p","i","o","c"],"range":["#333333","transparent","transparent","transparent","transparent"]},
      "legend":{"orient":"none","legendX":11,"legendY":165,"title":null,"labelFontSize":16,"labelColor":"#1e1e1e","symbolSize":110,"symbolStrokeWidth":2,"rowPadding":0,"labelOffset":0,"padding":0,"labelLimit":400,"labelExpr":"datum.label=='f'?'Fe-Mn crusts':datum.label=='p'?'paleosol':datum.label=='i'?'ironstone':datum.label=='o'?'organic-rich shale and sediment':'bulk carbonate'"}}
    }},
   {"data":{"values":[{}]},"mark":{"type":"text","align":"center","baseline":"middle","fontStyle":"italic","fontSize":15.5,"color":"#2a2a2a"},
    "encoding":{"x":{"datum":1150,"type":"quantitative","axis":{"values":[4000,3000,2000,1000,0],"format":"d","ticks":false,"domain":false,"labelPadding":3,"labelFlush":false,"title":"Age (Ma)","titlePadding":1}},"y":{"datum":-0.38,"type":"quantitative","axis":null},"text":{"value":"continental crust"}}},
   {"data":{"values":[{}]},"mark":{"type":"text","align":"left","baseline":"middle","fontWeight":"bold","fontSize":19,"color":"#1e1e1e"},
    "encoding":{"x":{"datum":3962,"type":"quantitative","axis":{"values":[4000,3000,2000,1000,0],"format":"d","ticks":false,"domain":false,"labelPadding":3,"labelFlush":false,"title":"Age (Ma)","titlePadding":1}},"y":{"datum":0.69,"type":"quantitative","axis":null},"text":{"value":"A"}}},
   {"data":{"values":[{}]},"mark":{"type":"text","align":"left","baseline":"middle","fontSize":19,"color":"#1e1e1e"},
    "encoding":{"x":{"datum":3852,"type":"quantitative","axis":{"values":[4000,3000,2000,1000,0],"format":"d","ticks":false,"domain":false,"labelPadding":3,"labelFlush":false,"title":"Age (Ma)","titlePadding":1}},"y":{"datum":0.69,"type":"quantitative","axis":null},"text":{"value":"All records"}}}
  ]}
 ]},
{"width":730,"height":285,
 "resolve":{"scale":{"y":"independent"},"axis":{"y":"independent"}},
 "layer":[
  {"data":{"name":"ts"},
   "transform":[{"filter":"datum.p=='B'"}],
   "layer":[
   {"mark":{"type":"rect","stroke":"#3a3a3a","strokeWidth":1},
    "encoding":{
     "x":{"field":"s","type":"quantitative","scale":{"domain":[700,0],"nice":false,"zero":false},
      "axis":{"values":[700,600,500,400,300,200,100,0],"format":"d","ticks":false,"domain":false,"labelPadding":3,"labelFlush":false,"title":"Age (Ma)","titlePadding":1}},
     "x2":{"field":"e"},
     "y":{"field":"l","type":"nominal","scale":{"domain":["era"],"range":[261,285],"paddingInner":0,"paddingOuter":0},"axis":null},
     "color":{"field":"n","type":"nominal","legend":null,
      "scale":{"domain":["Eoarch.","Paleoarch.","Mesoarch.","Neoar.","Paleoproterozoic","Mesoproterozoic","Neoprot.","Paleoz.","Mz","C\nZ","Archean","Proterozoic","Phanerozoic","Paleoar.","Mesoar.","Cr","E","Cm","O","S","D","C","P","Tr","J","K","Pg","N"],
       "range":["#6f6f6f","#8b8b8b","#989898","#c6c6c6","#8c8c8c","#cbcbcb","#d2d2d2","#a7a7a7","#b4b4b4","#e2e2e2","#7b7b7b","#8b8b8b","#dadada","#8f8f8f","#9a9a9a","#cfcfcf","#dedede","#8f8f8f","#7d7d7d","#cdcdcd","#9d9d9d","#a9a9a9","#8d8d8d","#595959","#b1b1b1","#bdbdbd","#c6c6c6","#ececec"]}}}},
   {"mark":{"type":"text","fontSize":14,"color":"#262626","baseline":"middle"},
    "encoding":{"x":{"field":"m","type":"quantitative","axis":{"values":[700,600,500,400,300,200,100,0],"format":"d","ticks":false,"domain":false,"labelPadding":3,"labelFlush":false,"title":"Age (Ma)","titlePadding":1}},"y":{"field":"l","type":"nominal"},"text":{"field":"n"}}}
  ]},
  {"resolve":{"axis":{"y":"independent"}},
   "layer":[
   {"data":{"values":[{}]},"mark":{"type":"rect","color":"#d2d2d2"},
    "encoding":{"y":{"datum":-0.2,"type":"quantitative","scale":{"domain":[-1.3,0.8],"range":[261,0],"nice":false,"zero":false},
     "axis":{"orient":"left","values":[0.8,0.7,0.6,0.5,0.4,0.3,0.2,0.1,0,-0.1,-0.2,-0.3,-0.4,-0.5,-0.6,-0.7,-0.8,-0.9,-1,-1.1,-1.2,-1.3],"tickSize":9,"tickWidth":1.5,"labels":false,"domain":false,"title":null}},
     "y2":{"datum":-0.09}}},
   {"data":{"values":[{}]},"mark":{"type":"rule","stroke":"#6b6b6b","strokeWidth":2,"strokeDash":[15,9]},
    "encoding":{"y":{"datum":-0.3,"type":"quantitative","axis":null}}},
   {"data":{"values":[{}]},"mark":{"type":"rule","stroke":"#bdbdbd","strokeWidth":3,"strokeDash":[9,6]},
    "encoding":{"y":{"datum":-0.39,"type":"quantitative","axis":null}}},
   {"data":{"name":"d"},"transform":[{"filter":"(datum.t=='c'||datum.t=='o')&&datum.a<=700"}],
    "mark":{"type":"point","strokeWidth":2,"size":120,"opacity":1},
    "encoding":{
     "x":{"field":"a","type":"quantitative","scale":{"domain":[700,0],"nice":false,"zero":false},"axis":{"values":[700,600,500,400,300,200,100,0],"format":"d","ticks":false,"domain":false,"labelPadding":3,"labelFlush":false,"title":"Age (Ma)","titlePadding":1}},
     "y":{"field":"v","type":"quantitative","scale":{"domain":[-1.3,0.8],"range":[261,0],"nice":false,"zero":false},
      "axis":{"orient":"left","values":[0.5,0,-0.5,-1],"tickSize":17,"tickWidth":1.5,"labelPadding":1,"domain":true,"domainWidth":1.5,"title":"δ²³⁸U (‰)","titlePadding":12,"labelExpr":"datum.value==0?'0':format(datum.value,'.1f')"}},
     "shape":{"field":"t","type":"nominal","scale":{"domain":["c","o"],"range":["diamond","circle"]},
      "legend":{"orient":"none","legendX":561,"legendY":215,"title":null,"labelFontSize":16,"labelColor":"#1e1e1e","symbolSize":110,"symbolStrokeWidth":2,"rowPadding":1,"labelOffset":0,"padding":0,"labelExpr":"datum.label=='c'?'bulk carbonate':'organic-rich shales'"}},
     "stroke":{"field":"t","type":"nominal","scale":{"domain":["c","o"],"range":["#8b8b8b","#8a8a8a"]},
      "legend":{"orient":"none","legendX":561,"legendY":215,"title":null,"labelFontSize":16,"labelColor":"#1e1e1e","symbolSize":110,"symbolStrokeWidth":2,"rowPadding":1,"labelOffset":0,"padding":0,"labelExpr":"datum.label=='c'?'bulk carbonate':'organic-rich shales'"}},
     "fill":{"field":"t","type":"nominal","scale":{"domain":["c","o"],"range":["transparent","transparent"]},
      "legend":{"orient":"none","legendX":561,"legendY":215,"title":null,"labelFontSize":16,"labelColor":"#1e1e1e","symbolSize":110,"symbolStrokeWidth":2,"rowPadding":1,"labelOffset":0,"padding":0,"labelExpr":"datum.label=='c'?'bulk carbonate':'organic-rich shales'"}}
    }},
   {"data":{"values":[{}]},"mark":{"type":"text","align":"left","baseline":"middle","fontStyle":"italic","fontSize":16,"color":"#2a2a2a"},
    "encoding":{"x":{"datum":630,"type":"quantitative","axis":{"values":[700,600,500,400,300,200,100,0],"format":"d","ticks":false,"domain":false,"labelPadding":3,"labelFlush":false,"title":"Age (Ma)","titlePadding":1}},"y":{"datum":-0.15,"type":"quantitative","axis":null},"text":{"value":"CaCO₃ diagenetic offset"}}},
   {"data":{"values":[{}]},"mark":{"type":"text","align":"left","baseline":"middle","fontStyle":"italic","fontSize":16,"color":"#2a2a2a"},
    "encoding":{"x":{"datum":170,"type":"quantitative","axis":{"values":[700,600,500,400,300,200,100,0],"format":"d","ticks":false,"domain":false,"labelPadding":3,"labelFlush":false,"title":"Age (Ma)","titlePadding":1}},"y":{"datum":-0.46,"type":"quantitative","axis":null},"text":{"value":"modern"}}},
   {"data":{"values":[{}]},"mark":{"type":"text","align":"left","baseline":"middle","fontStyle":"italic","fontSize":16,"color":"#2a2a2a"},
    "encoding":{"x":{"datum":170,"type":"quantitative","axis":{"values":[700,600,500,400,300,200,100,0],"format":"d","ticks":false,"domain":false,"labelPadding":3,"labelFlush":false,"title":"Age (Ma)","titlePadding":1}},"y":{"datum":-0.62,"type":"quantitative","axis":null},"text":{"value":"seawater"}}},
   {"data":{"values":[{}]},"mark":{"type":"text","align":"left","baseline":"middle","fontWeight":"bold","fontSize":19,"color":"#1e1e1e"},
    "encoding":{"x":{"datum":693,"type":"quantitative","axis":{"values":[700,600,500,400,300,200,100,0],"format":"d","ticks":false,"domain":false,"labelPadding":3,"labelFlush":false,"title":"Age (Ma)","titlePadding":1}},"y":{"datum":0.667,"type":"quantitative","axis":null},"text":{"value":"B"}}},
   {"data":{"values":[{}]},"mark":{"type":"text","align":"left","baseline":"middle","fontSize":19,"color":"#1e1e1e"},
    "encoding":{"x":{"datum":671,"type":"quantitative","axis":{"values":[700,600,500,400,300,200,100,0],"format":"d","ticks":false,"domain":false,"labelPadding":3,"labelFlush":false,"title":"Age (Ma)","titlePadding":1}},"y":{"datum":0.667,"type":"quantitative","axis":null},"text":{"value":"Bulk carbonate rocks and sediments, organic-rich shales and sediments"}}}
  ]}
 ]},
{"width":730,"height":297,
 "resolve":{"scale":{"y":"independent"},"axis":{"y":"independent"}},
 "layer":[
  {"data":{"name":"ts"},
   "transform":[{"filter":"datum.p=='C'"}],
   "layer":[
   {"mark":{"type":"rect","stroke":"#3a3a3a","strokeWidth":1},
    "encoding":{
     "x":{"field":"s","type":"quantitative","scale":{"domain":[3500,0],"nice":false,"zero":false},
      "axis":{"values":[3000,2000,1000,0],"format":"d","ticks":false,"domain":false,"labelPadding":1,"labelFlush":false,"title":"Age (Ma)","titlePadding":0}},
     "x2":{"field":"e"},
     "y":{"field":"l","type":"nominal","scale":{"domain":["era","eon"],"range":[250,297],"paddingInner":0,"paddingOuter":0},"axis":null},
     "color":{"field":"n","type":"nominal","legend":null,
      "scale":{"domain":["Eoarch.","Paleoarch.","Mesoarch.","Neoar.","Paleoproterozoic","Mesoproterozoic","Neoprot.","Paleoz.","Mz","C\nZ","Archean","Proterozoic","Phanerozoic","Paleoar.","Mesoar.","Cr","E","Cm","O","S","D","C","P","Tr","J","K","Pg","N"],
       "range":["#6f6f6f","#8b8b8b","#989898","#c6c6c6","#8c8c8c","#cbcbcb","#d2d2d2","#a7a7a7","#b4b4b4","#e2e2e2","#7b7b7b","#8b8b8b","#dadada","#8f8f8f","#9a9a9a","#cfcfcf","#dedede","#8f8f8f","#7d7d7d","#cdcdcd","#9d9d9d","#a9a9a9","#8d8d8d","#595959","#b1b1b1","#bdbdbd","#c6c6c6","#ececec"]}}}},
   {"mark":{"type":"text","fontSize":14,"color":"#262626","lineBreak":"\n","lineHeight":9,"baseline":"middle"},
    "encoding":{"x":{"field":"m","type":"quantitative","axis":{"values":[3000,2000,1000,0],"format":"d","ticks":false,"domain":false,"labelPadding":1,"labelFlush":false,"title":"Age (Ma)","titlePadding":0}},"y":{"field":"l","type":"nominal"},"text":{"field":"n"},
     "size":{"condition":{"test":"datum.n=='C\\nZ'","value":10},"value":14}}}
  ]},
  {"resolve":{"axis":{"y":"independent"}},
   "layer":[
   {"data":{"values":[{}]},"mark":{"type":"rule","stroke":"#6b6b6b","strokeWidth":2,"strokeDash":[15,9]},
    "encoding":{"y":{"datum":-0.37,"type":"quantitative","scale":{"domain":[-0.7,0.6],"range":[250,0],"nice":false,"zero":false},
     "axis":{"orient":"left","values":[0.6,0.5,0.4,0.3,0.2,0.1,0,-0.1,-0.2,-0.3,-0.4,-0.5,-0.6,-0.7],"tickSize":9,"tickWidth":1.5,"labels":false,"domain":false,"title":null}}}},
   {"data":{"name":"d"},"transform":[{"filter":"datum.t=='o'&&datum.a<=3500"}],
    "mark":{"type":"point","strokeWidth":1.3,"size":115,"opacity":1},
    "encoding":{
     "x":{"field":"a","type":"quantitative","scale":{"domain":[3500,0],"nice":false,"zero":false},"axis":{"values":[3000,2000,1000,0],"format":"d","ticks":false,"domain":false,"labelPadding":1,"labelFlush":false,"title":"Age (Ma)","titlePadding":0}},
     "y":{"field":"v","type":"quantitative","scale":{"domain":[-0.7,0.6],"range":[250,0],"nice":false,"zero":false},
      "axis":{"orient":"left","values":[0.5,0,-0.5],"tickSize":17,"tickWidth":1.5,"labelPadding":1,"domain":true,"domainWidth":1.5,"title":"δ²³⁸U (‰)","titlePadding":12,"labelExpr":"datum.value==0?'0':format(datum.value,'.1f')"}},
     "shape":{"field":"t","type":"nominal","scale":{"domain":["o"],"range":["circle"]},"legend":null},
     "stroke":{"field":"t","type":"nominal","scale":{"domain":["o"],"range":["#8a8a8a"]},"legend":null},
     "fill":{"field":"t","type":"nominal","scale":{"domain":["o"],"range":["transparent"]},"legend":null}
    }},
   {"data":{"values":[{}]},"mark":{"type":"text","align":"center","baseline":"middle","fontStyle":"italic","fontSize":15.5,"color":"#2a2a2a"},
    "encoding":{"x":{"datum":1005,"type":"quantitative","axis":{"values":[3000,2000,1000,0],"format":"d","ticks":false,"domain":false,"labelPadding":1,"labelFlush":false,"title":"Age (Ma)","titlePadding":0}},"y":{"datum":-0.44,"type":"quantitative","axis":null},"text":{"value":"continental crust"}}},
   {"data":{"values":[{}]},"mark":{"type":"text","align":"left","baseline":"middle","fontWeight":"bold","fontSize":19,"color":"#1e1e1e"},
    "encoding":{"x":{"datum":3466,"type":"quantitative","axis":{"values":[3000,2000,1000,0],"format":"d","ticks":false,"domain":false,"labelPadding":1,"labelFlush":false,"title":"Age (Ma)","titlePadding":0}},"y":{"datum":0.534,"type":"quantitative","axis":null},"text":{"value":"C"}}},
   {"data":{"values":[{}]},"mark":{"type":"text","align":"left","baseline":"middle","fontSize":19,"color":"#1e1e1e"},
    "encoding":{"x":{"datum":3370,"type":"quantitative","axis":{"values":[3000,2000,1000,0],"format":"d","ticks":false,"domain":false,"labelPadding":1,"labelFlush":false,"title":"Age (Ma)","titlePadding":0}},"y":{"datum":0.534,"type":"quantitative","axis":null},"text":{"value":"Organic-rich shales and sediments"}}}
  ]}
 ]},
{"width":730,"height":305,
 "resolve":{"scale":{"y":"independent"},"axis":{"y":"independent"}},
 "layer":[
  {"data":{"name":"ts"},
   "transform":[{"filter":"datum.p=='A'"}],
   "layer":[
   {"mark":{"type":"rect","stroke":"#3a3a3a","strokeWidth":1},
    "encoding":{
     "x":{"field":"s","type":"quantitative","scale":{"domain":[4000,0],"nice":false,"zero":false},
      "axis":{"values":[4000,3000,2000,1000,0],"format":"d","ticks":false,"domain":false,"labelPadding":3,"labelFlush":false,"title":"Age (Ma)","titlePadding":0}},
     "x2":{"field":"e"},
     "y":{"field":"l","type":"nominal","scale":{"domain":["era","eon"],"range":[259,305],"paddingInner":0,"paddingOuter":0},"axis":null},
     "color":{"field":"n","type":"nominal","legend":null,
      "scale":{"domain":["Eoarch.","Paleoarch.","Mesoarch.","Neoar.","Paleoproterozoic","Mesoproterozoic","Neoprot.","Paleoz.","Mz","C\nZ","Archean","Proterozoic","Phanerozoic","Paleoar.","Mesoar.","Cr","E","Cm","O","S","D","C","P","Tr","J","K","Pg","N"],
       "range":["#6f6f6f","#8b8b8b","#989898","#c6c6c6","#8c8c8c","#cbcbcb","#d2d2d2","#a7a7a7","#b4b4b4","#e2e2e2","#7b7b7b","#8b8b8b","#dadada","#8f8f8f","#9a9a9a","#cfcfcf","#dedede","#8f8f8f","#7d7d7d","#cdcdcd","#9d9d9d","#a9a9a9","#8d8d8d","#595959","#b1b1b1","#bdbdbd","#c6c6c6","#ececec"]}}}},
   {"mark":{"type":"text","fontSize":14,"color":"#262626","lineBreak":"\n","lineHeight":9,"baseline":"middle"},
    "encoding":{"x":{"field":"m","type":"quantitative","axis":{"values":[4000,3000,2000,1000,0],"format":"d","ticks":false,"domain":false,"labelPadding":3,"labelFlush":false,"title":"Age (Ma)","titlePadding":0}},"y":{"field":"l","type":"nominal"},"text":{"field":"n"},
     "size":{"condition":{"test":"datum.n=='C\\nZ'","value":10},"value":14}}}
  ]},
  {"resolve":{"axis":{"y":"independent"}},
   "layer":[
   {"data":{"values":[{}]},"mark":{"type":"rule","stroke":"#6b6b6b","strokeWidth":2,"strokeDash":[15,9]},
    "encoding":{"y":{"datum":-0.3,"type":"quantitative","scale":{"domain":[-1.0,0.3],"range":[259,0],"nice":false,"zero":false},
     "axis":{"orient":"left","values":[0.3,0.2,0.1,0,-0.1,-0.2,-0.3,-0.4,-0.5,-0.6,-0.7,-0.8,-0.9,-1],"tickSize":9,"tickWidth":1.5,"labels":false,"domain":false,"title":null}}}},
   {"data":{"name":"d"},"transform":[{"filter":"datum.t=='f'||datum.t=='i'||datum.t=='p'"}],
    "mark":{"type":"point","strokeWidth":1.5,"size":110,"opacity":1},
    "encoding":{
     "x":{"field":"a","type":"quantitative","scale":{"domain":[4000,0],"nice":false,"zero":false},"axis":{"values":[4000,3000,2000,1000,0],"format":"d","ticks":false,"domain":false,"labelPadding":3,"labelFlush":false,"title":"Age (Ma)","titlePadding":0}},
     "y":{"field":"v","type":"quantitative","scale":{"domain":[-1.0,0.3],"range":[259,0],"nice":false,"zero":false},
      "axis":{"orient":"left","values":[0,-0.5,-1],"tickSize":17,"tickWidth":1.5,"labelPadding":1,"domain":true,"domainWidth":1.5,"title":"δ²³⁸U (‰)","titlePadding":12,"labelExpr":"datum.value==0?'0':format(datum.value,'.1f')"}},
     "shape":{"field":"t","type":"nominal","scale":{"domain":["f","i","p"],"range":["circle","square","triangle-up"]},
      "legend":{"orient":"none","legendX":586,"legendY":15,"title":null,"labelFontSize":16,"labelColor":"#1e1e1e","symbolSize":100,"symbolStrokeWidth":1.3,"rowPadding":7,"labelOffset":6,"padding":0,"labelExpr":"datum.label=='f'?'Fe-Mn crusts':datum.label=='i'?'ironstone':'paleosol'"}},
     "stroke":{"field":"t","type":"nominal","scale":{"domain":["f","i","p"],"range":["#333333","#7d7d7d","#aaaaaa"]},
      "legend":{"orient":"none","legendX":586,"legendY":15,"title":null,"labelFontSize":16,"labelColor":"#1e1e1e","symbolSize":100,"symbolStrokeWidth":1.3,"rowPadding":7,"labelOffset":6,"padding":0,"labelExpr":"datum.label=='f'?'Fe-Mn crusts':datum.label=='i'?'ironstone':'paleosol'"}},
     "fill":{"field":"t","type":"nominal","scale":{"domain":["f","i","p"],"range":["#333333","transparent","transparent"]},
      "legend":{"orient":"none","legendX":586,"legendY":15,"title":null,"labelFontSize":16,"labelColor":"#1e1e1e","symbolSize":100,"symbolStrokeWidth":1.3,"rowPadding":7,"labelOffset":6,"padding":0,"labelExpr":"datum.label=='f'?'Fe-Mn crusts':datum.label=='i'?'ironstone':'paleosol'"}}
    }},
   {"data":{"values":[{}]},"mark":{"type":"text","align":"center","baseline":"middle","fontStyle":"italic","fontSize":15.5,"color":"#2a2a2a"},
    "encoding":{"x":{"datum":1156,"type":"quantitative","axis":{"values":[4000,3000,2000,1000,0],"format":"d","ticks":false,"domain":false,"labelPadding":3,"labelFlush":false,"title":"Age (Ma)","titlePadding":0}},"y":{"datum":-0.365,"type":"quantitative","axis":null},"text":{"value":"continental crust"}}},
   {"data":{"values":[{}]},"mark":{"type":"text","align":"left","baseline":"middle","fontWeight":"bold","fontSize":19,"color":"#1e1e1e"},
    "encoding":{"x":{"datum":3962,"type":"quantitative","axis":{"values":[4000,3000,2000,1000,0],"format":"d","ticks":false,"domain":false,"labelPadding":3,"labelFlush":false,"title":"Age (Ma)","titlePadding":0}},"y":{"datum":0.215,"type":"quantitative","axis":null},"text":{"value":"D"}}},
   {"data":{"values":[{}]},"mark":{"type":"text","align":"left","baseline":"middle","fontSize":19,"color":"#1e1e1e"},
    "encoding":{"x":{"datum":3852,"type":"quantitative","axis":{"values":[4000,3000,2000,1000,0],"format":"d","ticks":false,"domain":false,"labelPadding":3,"labelFlush":false,"title":"Age (Ma)","titlePadding":0}},"y":{"datum":0.215,"type":"quantitative","axis":null},"text":{"value":"Other sedimentary archives"}}}
  ]}
 ]}
]
}
